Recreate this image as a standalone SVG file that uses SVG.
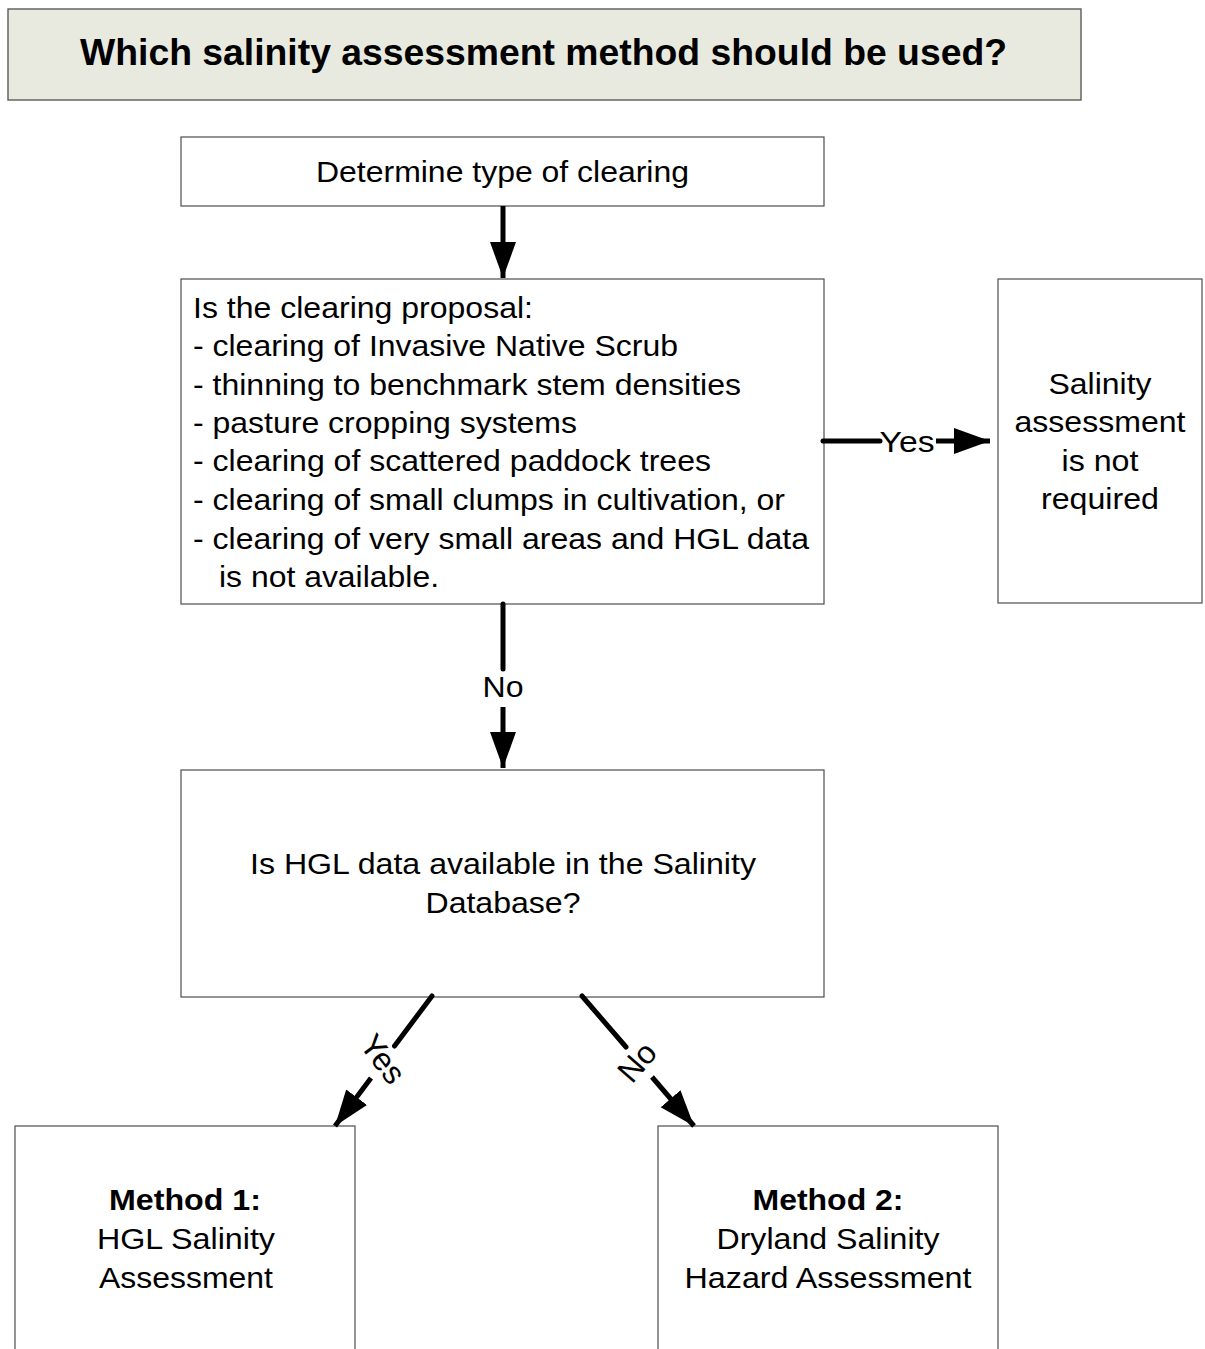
<svg xmlns="http://www.w3.org/2000/svg" width="1205" height="1349" viewBox="0 0 1205 1349">
  <style>
    .box { fill: #ffffff; stroke: #4d4d4d; stroke-width: 1.2; }
    .title-box { fill: #e9eadf; stroke: #5a5a5a; stroke-width: 1.4; }
    .t { font-family: "Liberation Sans", Arial, sans-serif; font-size: 30px; fill: #000; }
    .b { font-weight: bold; }
    .c { text-anchor: middle; }
    .head { font-size: 37px; }
    .conn { stroke: #000; stroke-width: 5; fill: none; }
    .lbl { font-family: "Liberation Sans", Arial, sans-serif; font-size: 30px; fill: #000; text-anchor: middle; }
    .diag { font-size: 32px; }
  </style>
  <defs>
    <marker id="arrow" markerUnits="userSpaceOnUse" markerWidth="38" markerHeight="28" refX="36" refY="13" orient="auto" viewBox="0 0 38 28">
      <path d="M0,0 L36,13 L0,26 Z" fill="#000"/>
    </marker>
  </defs>

  <rect width="1205" height="1349" fill="#ffffff"/>

  <g id="title">
    <rect class="title-box" x="8" y="9" width="1073" height="91"/>
    <text class="t b head" x="80" y="65" textLength="927" lengthAdjust="spacingAndGlyphs">Which salinity assessment method should be used?</text>
  </g>

  <g id="node-determine">
    <rect class="box" x="181" y="137" width="643" height="69"/>
    <text class="t" x="316" y="182" textLength="373" lengthAdjust="spacingAndGlyphs">Determine type of clearing</text>
  </g>

  <g id="node-proposal">
    <rect class="box" x="181" y="279" width="643" height="325"/>
    <text class="t" x="193" y="318" textLength="340" lengthAdjust="spacingAndGlyphs">Is the clearing proposal:</text>
    <text class="t" x="193" y="356" textLength="485" lengthAdjust="spacingAndGlyphs">- clearing of Invasive Native Scrub</text>
    <text class="t" x="193" y="395" textLength="548" lengthAdjust="spacingAndGlyphs">- thinning to benchmark stem densities</text>
    <text class="t" x="193" y="433" textLength="384" lengthAdjust="spacingAndGlyphs">- pasture cropping systems</text>
    <text class="t" x="193" y="471" textLength="518" lengthAdjust="spacingAndGlyphs">- clearing of scattered paddock trees</text>
    <text class="t" x="193" y="510" textLength="592" lengthAdjust="spacingAndGlyphs">- clearing of small clumps in cultivation, or</text>
    <text class="t" x="193" y="549" textLength="616" lengthAdjust="spacingAndGlyphs">- clearing of very small areas and HGL data</text>
    <text class="t" x="219" y="587" textLength="220" lengthAdjust="spacingAndGlyphs">is not available.</text>
  </g>

  <g id="node-not-required">
    <rect class="box" x="998" y="279" width="204" height="324"/>
    <text class="t c" x="1100" y="394" textLength="103" lengthAdjust="spacingAndGlyphs">Salinity</text>
    <text class="t c" x="1100" y="432" textLength="171" lengthAdjust="spacingAndGlyphs">assessment</text>
    <text class="t c" x="1100" y="471" textLength="77" lengthAdjust="spacingAndGlyphs">is not</text>
    <text class="t c" x="1100" y="509" textLength="118" lengthAdjust="spacingAndGlyphs">required</text>
  </g>

  <g id="node-hgl-data">
    <rect class="box" x="181" y="770" width="643" height="227"/>
    <text class="t c" x="503" y="874" textLength="506" lengthAdjust="spacingAndGlyphs">Is HGL data available in the Salinity</text>
    <text class="t c" x="503" y="913" textLength="155" lengthAdjust="spacingAndGlyphs">Database?</text>
  </g>

  <g id="node-method1">
    <rect class="box" x="15" y="1126" width="340" height="240"/>
    <text class="t b c" x="185" y="1210" textLength="152" lengthAdjust="spacingAndGlyphs">Method 1:</text>
    <text class="t c" x="186" y="1249" textLength="178" lengthAdjust="spacingAndGlyphs">HGL Salinity</text>
    <text class="t c" x="186" y="1288" textLength="174" lengthAdjust="spacingAndGlyphs">Assessment</text>
  </g>

  <g id="node-method2">
    <rect class="box" x="658" y="1126" width="340" height="240"/>
    <text class="t b c" x="828" y="1210" textLength="151" lengthAdjust="spacingAndGlyphs">Method 2:</text>
    <text class="t c" x="828" y="1249" textLength="223" lengthAdjust="spacingAndGlyphs">Dryland Salinity</text>
    <text class="t c" x="828" y="1288" textLength="287" lengthAdjust="spacingAndGlyphs">Hazard Assessment</text>
  </g>

  <g id="connectors">
    <!-- Determine -> proposal -->
    <line class="conn" x1="503" y1="206" x2="503" y2="278" marker-end="url(#arrow)"/>

    <!-- proposal -> not required (Yes) -->
    <line class="conn" x1="823" y1="441" x2="880" y2="441" stroke-linecap="round"/>
    <line class="conn" x1="936" y1="441" x2="990" y2="441" marker-end="url(#arrow)"/>
    <text class="lbl" x="907" y="452" textLength="55" lengthAdjust="spacingAndGlyphs">Yes</text>

    <!-- proposal -> HGL data (No) -->
    <line class="conn" x1="503" y1="604" x2="503" y2="669" stroke-linecap="round"/>
    <line class="conn" x1="503" y1="707" x2="503" y2="768" marker-end="url(#arrow)"/>
    <text class="lbl" x="503" y="697" textLength="41" lengthAdjust="spacingAndGlyphs">No</text>

    <!-- HGL data -> Method 1 (Yes) -->
    <line class="conn" x1="432" y1="996" x2="394.5" y2="1046" stroke-linecap="round"/>
    <line class="conn" x1="371" y1="1078" x2="335" y2="1126" marker-end="url(#arrow)"/>
    <text class="lbl diag" transform="translate(383 1059) rotate(53)" y="11">Yes</text>

    <!-- HGL data -> Method 2 (No) -->
    <line class="conn" x1="582" y1="996" x2="626" y2="1047" stroke-linecap="round"/>
    <line class="conn" x1="652" y1="1077" x2="694" y2="1126" marker-end="url(#arrow)"/>
    <text class="lbl diag" transform="translate(637 1062) rotate(-49)" y="11">No</text>
  </g>
</svg>
